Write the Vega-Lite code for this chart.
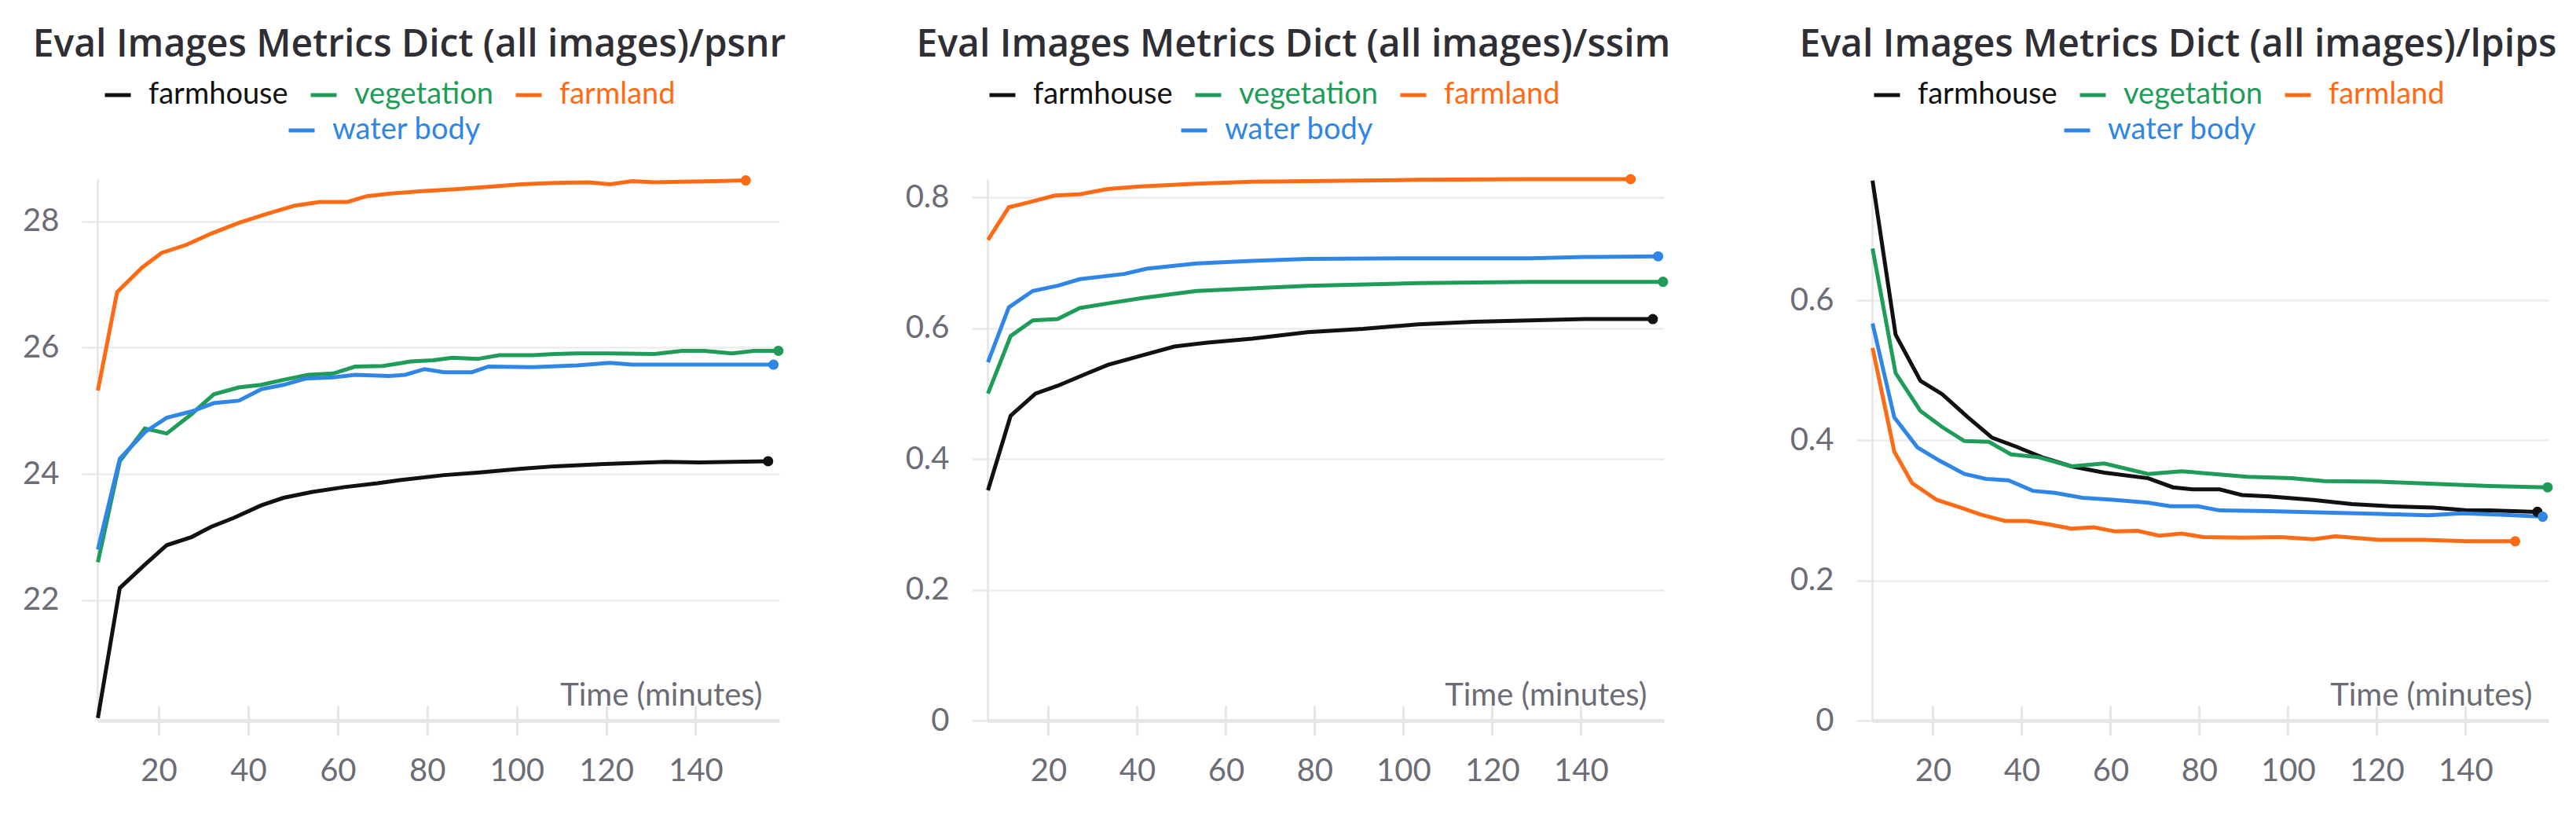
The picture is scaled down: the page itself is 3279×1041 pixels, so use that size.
{
  "$schema": "https://vega.github.io/schema/vega-lite/v6.json",
  "background": "white",
  "padding": {"left": 28, "top": 34, "right": 5, "bottom": 5},
  "config": {
    "font": "Lato",
    "view": {"stroke": null},
    "title": {"font": "Open Sans", "fontSize": 48, "fontWeight": 600, "color": "#2e2e34", "anchor": "middle", "frame": "group", "offset": 20, "baseline": "alphabetic"},
    "axisY": {"tickSize": 20, "labelPadding": 29, "domainColor": "#e4e4e8", "domainWidth": 2.5, "tickColor": "#e8e8ea", "tickWidth": 2.5, "gridColor": "#ececee", "gridWidth": 2.5, "labelFontSize": 40, "labelColor": "#6c6c76", "title": null, "grid": true, "labelFont": "Lato"},
    "legend": {"labelFont": "Lato", "labelFontSize": 38, "labelOffset": 20, "labelLimit": 0, "columnPadding": 26, "padding": 0, "symbolOpacity": 1}
  },
  "datasets": {
    "d": [
      {"m":"psnr","s":"farmland","t":6.4,"v":25.32},{"m":"psnr","s":"farmland","t":10.7,"v":26.88},{"m":"psnr","s":"farmland","t":16.3,"v":27.27},{"m":"psnr","s":"farmland","t":20.6,"v":27.5},{"m":"psnr","s":"farmland","t":26.2,"v":27.63},{"m":"psnr","s":"farmland","t":31.8,"v":27.81},{"m":"psnr","s":"farmland","t":38,"v":27.98},{"m":"psnr","s":"farmland","t":44.2,"v":28.12},{"m":"psnr","s":"farmland","t":50.4,"v":28.25},{"m":"psnr","s":"farmland","t":56,"v":28.31},{"m":"psnr","s":"farmland","t":62.2,"v":28.31},{"m":"psnr","s":"farmland","t":66.5,"v":28.4},{"m":"psnr","s":"farmland","t":71.5,"v":28.44},{"m":"psnr","s":"farmland","t":78.9,"v":28.48},{"m":"psnr","s":"farmland","t":86.3,"v":28.51},{"m":"psnr","s":"farmland","t":93.7,"v":28.55},{"m":"psnr","s":"farmland","t":101.1,"v":28.59},{"m":"psnr","s":"farmland","t":108.5,"v":28.61},{"m":"psnr","s":"farmland","t":115.9,"v":28.62},{"m":"psnr","s":"farmland","t":120.9,"v":28.59},{"m":"psnr","s":"farmland","t":125.8,"v":28.64},{"m":"psnr","s":"farmland","t":130.8,"v":28.62},{"m":"psnr","s":"farmland","t":137,"v":28.63},{"m":"psnr","s":"farmland","t":144.4,"v":28.64},{"m":"psnr","s":"farmland","t":151.2,"v":28.65},
      {"m":"psnr","s":"farmhouse","t":6.4,"v":20.13},{"m":"psnr","s":"farmhouse","t":11.3,"v":22.19},{"m":"psnr","s":"farmhouse","t":16.9,"v":22.56},{"m":"psnr","s":"farmhouse","t":21.8,"v":22.87},{"m":"psnr","s":"farmhouse","t":27.4,"v":23.0},{"m":"psnr","s":"farmhouse","t":31.7,"v":23.16},{"m":"psnr","s":"farmhouse","t":36.7,"v":23.3},{"m":"psnr","s":"farmhouse","t":42.9,"v":23.5},{"m":"psnr","s":"farmhouse","t":47.9,"v":23.62},{"m":"psnr","s":"farmhouse","t":54.1,"v":23.71},{"m":"psnr","s":"farmhouse","t":61.5,"v":23.79},{"m":"psnr","s":"farmhouse","t":68.9,"v":23.85},{"m":"psnr","s":"farmhouse","t":73.9,"v":23.9},{"m":"psnr","s":"farmhouse","t":83.8,"v":23.98},{"m":"psnr","s":"farmhouse","t":91.2,"v":24.02},{"m":"psnr","s":"farmhouse","t":101.1,"v":24.08},{"m":"psnr","s":"farmhouse","t":108.5,"v":24.12},{"m":"psnr","s":"farmhouse","t":120.9,"v":24.16},{"m":"psnr","s":"farmhouse","t":133.3,"v":24.19},{"m":"psnr","s":"farmhouse","t":140.7,"v":24.18},{"m":"psnr","s":"farmhouse","t":156.2,"v":24.2},
      {"m":"psnr","s":"vegetation","t":6.4,"v":22.6},{"m":"psnr","s":"vegetation","t":11.3,"v":24.2},{"m":"psnr","s":"vegetation","t":16.9,"v":24.72},{"m":"psnr","s":"vegetation","t":21.8,"v":24.64},{"m":"psnr","s":"vegetation","t":27.4,"v":24.95},{"m":"psnr","s":"vegetation","t":32.3,"v":25.26},{"m":"psnr","s":"vegetation","t":37.9,"v":25.37},{"m":"psnr","s":"vegetation","t":42.9,"v":25.41},{"m":"psnr","s":"vegetation","t":47.9,"v":25.49},{"m":"psnr","s":"vegetation","t":53.4,"v":25.57},{"m":"psnr","s":"vegetation","t":59,"v":25.59},{"m":"psnr","s":"vegetation","t":63.9,"v":25.7},{"m":"psnr","s":"vegetation","t":70.1,"v":25.71},{"m":"psnr","s":"vegetation","t":76.3,"v":25.78},{"m":"psnr","s":"vegetation","t":81.3,"v":25.8},{"m":"psnr","s":"vegetation","t":85.6,"v":25.84},{"m":"psnr","s":"vegetation","t":91.2,"v":25.82},{"m":"psnr","s":"vegetation","t":96.1,"v":25.88},{"m":"psnr","s":"vegetation","t":103.6,"v":25.88},{"m":"psnr","s":"vegetation","t":108.5,"v":25.9},{"m":"psnr","s":"vegetation","t":113.5,"v":25.91},{"m":"psnr","s":"vegetation","t":120.9,"v":25.91},{"m":"psnr","s":"vegetation","t":130.8,"v":25.9},{"m":"psnr","s":"vegetation","t":137,"v":25.95},{"m":"psnr","s":"vegetation","t":141.9,"v":25.95},{"m":"psnr","s":"vegetation","t":148.1,"v":25.91},{"m":"psnr","s":"vegetation","t":153.1,"v":25.95},{"m":"psnr","s":"vegetation","t":158.5,"v":25.95},
      {"m":"psnr","s":"water body","t":6.4,"v":22.8},{"m":"psnr","s":"water body","t":11.3,"v":24.24},{"m":"psnr","s":"water body","t":16.9,"v":24.66},{"m":"psnr","s":"water body","t":21.8,"v":24.89},{"m":"psnr","s":"water body","t":27.4,"v":24.99},{"m":"psnr","s":"water body","t":32.3,"v":25.12},{"m":"psnr","s":"water body","t":37.9,"v":25.16},{"m":"psnr","s":"water body","t":42.9,"v":25.34},{"m":"psnr","s":"water body","t":47.9,"v":25.41},{"m":"psnr","s":"water body","t":52.8,"v":25.51},{"m":"psnr","s":"water body","t":59,"v":25.53},{"m":"psnr","s":"water body","t":63.9,"v":25.57},{"m":"psnr","s":"water body","t":71.4,"v":25.55},{"m":"psnr","s":"water body","t":75.1,"v":25.57},{"m":"psnr","s":"water body","t":79.4,"v":25.66},{"m":"psnr","s":"water body","t":83.8,"v":25.61},{"m":"psnr","s":"water body","t":90,"v":25.61},{"m":"psnr","s":"water body","t":93.7,"v":25.7},{"m":"psnr","s":"water body","t":103.6,"v":25.69},{"m":"psnr","s":"water body","t":113.5,"v":25.72},{"m":"psnr","s":"water body","t":120.9,"v":25.76},{"m":"psnr","s":"water body","t":125.8,"v":25.73},{"m":"psnr","s":"water body","t":139.4,"v":25.73},{"m":"psnr","s":"water body","t":149.3,"v":25.73},{"m":"psnr","s":"water body","t":157.4,"v":25.73},
      {"m":"ssim","s":"farmland","t":6.4,"v":0.735},{"m":"ssim","s":"farmland","t":11.1,"v":0.785},{"m":"ssim","s":"farmland","t":15.9,"v":0.793},{"m":"ssim","s":"farmland","t":21.5,"v":0.803},{"m":"ssim","s":"farmland","t":27.1,"v":0.805},{"m":"ssim","s":"farmland","t":33.4,"v":0.813},{"m":"ssim","s":"farmland","t":40.9,"v":0.817},{"m":"ssim","s":"farmland","t":53.4,"v":0.821},{"m":"ssim","s":"farmland","t":65.9,"v":0.824},{"m":"ssim","s":"farmland","t":78.4,"v":0.825},{"m":"ssim","s":"farmland","t":103.4,"v":0.827},{"m":"ssim","s":"farmland","t":128.4,"v":0.828},{"m":"ssim","s":"farmland","t":151.2,"v":0.828},
      {"m":"ssim","s":"water body","t":6.4,"v":0.548},{"m":"ssim","s":"water body","t":11.1,"v":0.632},{"m":"ssim","s":"water body","t":16.5,"v":0.657},{"m":"ssim","s":"water body","t":22.1,"v":0.665},{"m":"ssim","s":"water body","t":27.1,"v":0.675},{"m":"ssim","s":"water body","t":37.1,"v":0.683},{"m":"ssim","s":"water body","t":42.1,"v":0.691},{"m":"ssim","s":"water body","t":53.4,"v":0.699},{"m":"ssim","s":"water body","t":65.9,"v":0.703},{"m":"ssim","s":"water body","t":78.4,"v":0.706},{"m":"ssim","s":"water body","t":103.4,"v":0.707},{"m":"ssim","s":"water body","t":128.4,"v":0.707},{"m":"ssim","s":"water body","t":140.9,"v":0.709},{"m":"ssim","s":"water body","t":157.4,"v":0.71},
      {"m":"ssim","s":"vegetation","t":6.4,"v":0.5},{"m":"ssim","s":"vegetation","t":11.5,"v":0.588},{"m":"ssim","s":"vegetation","t":16.5,"v":0.612},{"m":"ssim","s":"vegetation","t":22.1,"v":0.614},{"m":"ssim","s":"vegetation","t":27.1,"v":0.631},{"m":"ssim","s":"vegetation","t":33.4,"v":0.638},{"m":"ssim","s":"vegetation","t":40.9,"v":0.646},{"m":"ssim","s":"vegetation","t":53.4,"v":0.657},{"m":"ssim","s":"vegetation","t":65.9,"v":0.661},{"m":"ssim","s":"vegetation","t":78.4,"v":0.665},{"m":"ssim","s":"vegetation","t":103.4,"v":0.669},{"m":"ssim","s":"vegetation","t":128.4,"v":0.671},{"m":"ssim","s":"vegetation","t":158.5,"v":0.671},
      {"m":"ssim","s":"farmhouse","t":6.4,"v":0.352},{"m":"ssim","s":"farmhouse","t":11.5,"v":0.466},{"m":"ssim","s":"farmhouse","t":17.1,"v":0.5},{"m":"ssim","s":"farmhouse","t":22.1,"v":0.512},{"m":"ssim","s":"farmhouse","t":28.4,"v":0.53},{"m":"ssim","s":"farmhouse","t":33.4,"v":0.544},{"m":"ssim","s":"farmhouse","t":40.9,"v":0.558},{"m":"ssim","s":"farmhouse","t":48.4,"v":0.572},{"m":"ssim","s":"farmhouse","t":55.9,"v":0.578},{"m":"ssim","s":"farmhouse","t":65.9,"v":0.584},{"m":"ssim","s":"farmhouse","t":78.4,"v":0.594},{"m":"ssim","s":"farmhouse","t":90.9,"v":0.599},{"m":"ssim","s":"farmhouse","t":103.4,"v":0.606},{"m":"ssim","s":"farmhouse","t":115.9,"v":0.61},{"m":"ssim","s":"farmhouse","t":128.4,"v":0.612},{"m":"ssim","s":"farmhouse","t":140.9,"v":0.614},{"m":"ssim","s":"farmhouse","t":156.2,"v":0.614},
      {"m":"lpips","s":"farmhouse","t":6.4,"v":0.771},{"m":"lpips","s":"farmhouse","t":11.6,"v":0.551},{"m":"lpips","s":"farmhouse","t":17.2,"v":0.485},{"m":"lpips","s":"farmhouse","t":22.1,"v":0.466},{"m":"lpips","s":"farmhouse","t":27.7,"v":0.434},{"m":"lpips","s":"farmhouse","t":33.3,"v":0.404},{"m":"lpips","s":"farmhouse","t":38.8,"v":0.391},{"m":"lpips","s":"farmhouse","t":45,"v":0.375},{"m":"lpips","s":"farmhouse","t":51.2,"v":0.363},{"m":"lpips","s":"farmhouse","t":58.6,"v":0.354},{"m":"lpips","s":"farmhouse","t":68.5,"v":0.346},{"m":"lpips","s":"farmhouse","t":74.1,"v":0.333},{"m":"lpips","s":"farmhouse","t":78.5,"v":0.33},{"m":"lpips","s":"farmhouse","t":84.6,"v":0.33},{"m":"lpips","s":"farmhouse","t":89.6,"v":0.322},{"m":"lpips","s":"farmhouse","t":95.8,"v":0.32},{"m":"lpips","s":"farmhouse","t":105.7,"v":0.315},{"m":"lpips","s":"farmhouse","t":114.4,"v":0.309},{"m":"lpips","s":"farmhouse","t":123,"v":0.306},{"m":"lpips","s":"farmhouse","t":132.9,"v":0.304},{"m":"lpips","s":"farmhouse","t":140.4,"v":0.3},{"m":"lpips","s":"farmhouse","t":145.3,"v":0.3},{"m":"lpips","s":"farmhouse","t":156.2,"v":0.298},
      {"m":"lpips","s":"vegetation","t":6.4,"v":0.674},{"m":"lpips","s":"vegetation","t":11.6,"v":0.496},{"m":"lpips","s":"vegetation","t":17.2,"v":0.442},{"m":"lpips","s":"vegetation","t":22.1,"v":0.419},{"m":"lpips","s":"vegetation","t":27.1,"v":0.399},{"m":"lpips","s":"vegetation","t":32.6,"v":0.398},{"m":"lpips","s":"vegetation","t":37.6,"v":0.38},{"m":"lpips","s":"vegetation","t":43.8,"v":0.376},{"m":"lpips","s":"vegetation","t":51.2,"v":0.363},{"m":"lpips","s":"vegetation","t":58.6,"v":0.367},{"m":"lpips","s":"vegetation","t":68.5,"v":0.352},{"m":"lpips","s":"vegetation","t":76,"v":0.356},{"m":"lpips","s":"vegetation","t":83.4,"v":0.352},{"m":"lpips","s":"vegetation","t":90.8,"v":0.348},{"m":"lpips","s":"vegetation","t":100.7,"v":0.346},{"m":"lpips","s":"vegetation","t":108.2,"v":0.342},{"m":"lpips","s":"vegetation","t":120.6,"v":0.341},{"m":"lpips","s":"vegetation","t":132.9,"v":0.338},{"m":"lpips","s":"vegetation","t":145.3,"v":0.335},{"m":"lpips","s":"vegetation","t":158.5,"v":0.333},
      {"m":"lpips","s":"water body","t":6.4,"v":0.567},{"m":"lpips","s":"water body","t":11.3,"v":0.433},{"m":"lpips","s":"water body","t":16.5,"v":0.39},{"m":"lpips","s":"water body","t":21.5,"v":0.371},{"m":"lpips","s":"water body","t":27.1,"v":0.352},{"m":"lpips","s":"water body","t":32,"v":0.345},{"m":"lpips","s":"water body","t":37,"v":0.343},{"m":"lpips","s":"water body","t":42.5,"v":0.328},{"m":"lpips","s":"water body","t":47.5,"v":0.325},{"m":"lpips","s":"water body","t":53.7,"v":0.318},{"m":"lpips","s":"water body","t":61.1,"v":0.315},{"m":"lpips","s":"water body","t":68.5,"v":0.311},{"m":"lpips","s":"water body","t":73.5,"v":0.306},{"m":"lpips","s":"water body","t":79.7,"v":0.306},{"m":"lpips","s":"water body","t":84.6,"v":0.3},{"m":"lpips","s":"water body","t":95.8,"v":0.299},{"m":"lpips","s":"water body","t":108.2,"v":0.297},{"m":"lpips","s":"water body","t":120.6,"v":0.295},{"m":"lpips","s":"water body","t":131.7,"v":0.293},{"m":"lpips","s":"water body","t":139.2,"v":0.296},{"m":"lpips","s":"water body","t":147.9,"v":0.294},{"m":"lpips","s":"water body","t":157.4,"v":0.291},
      {"m":"lpips","s":"farmland","t":6.4,"v":0.532},{"m":"lpips","s":"farmland","t":11.3,"v":0.384},{"m":"lpips","s":"farmland","t":15.3,"v":0.339},{"m":"lpips","s":"farmland","t":20.9,"v":0.315},{"m":"lpips","s":"farmland","t":25.8,"v":0.305},{"m":"lpips","s":"farmland","t":30.8,"v":0.294},{"m":"lpips","s":"farmland","t":36.3,"v":0.285},{"m":"lpips","s":"farmland","t":41.3,"v":0.285},{"m":"lpips","s":"farmland","t":46.3,"v":0.28},{"m":"lpips","s":"farmland","t":51.2,"v":0.274},{"m":"lpips","s":"farmland","t":56.2,"v":0.276},{"m":"lpips","s":"farmland","t":61.1,"v":0.27},{"m":"lpips","s":"farmland","t":66.1,"v":0.271},{"m":"lpips","s":"farmland","t":71,"v":0.264},{"m":"lpips","s":"farmland","t":76,"v":0.267},{"m":"lpips","s":"farmland","t":80.9,"v":0.262},{"m":"lpips","s":"farmland","t":89.6,"v":0.261},{"m":"lpips","s":"farmland","t":98.3,"v":0.262},{"m":"lpips","s":"farmland","t":105.7,"v":0.259},{"m":"lpips","s":"farmland","t":110.7,"v":0.263},{"m":"lpips","s":"farmland","t":120.6,"v":0.258},{"m":"lpips","s":"farmland","t":130.5,"v":0.258},{"m":"lpips","s":"farmland","t":140.4,"v":0.256},{"m":"lpips","s":"farmland","t":151.2,"v":0.256}
    ]
  },
  "data": {"name": "d"},
  "spacing": 265,
  "bounds": "flush",
  "resolve": {"scale": {"color": "independent", "fill": "independent", "y": "independent", "x": "independent"}, "legend": {"color": "independent", "fill": "independent"}},
  "hconcat": [
    {
      "width": 868, "height": 689,
      "title": {"text": "Eval Images Metrics Dict (all images)/psnr", "dx": -37},
      "transform": [{"filter": "datum.m === 'psnr'"}],
      "resolve": {"axis": {"x": "independent"}},
      "layer": [
        {
          "mark": {"type": "line", "strokeWidth": 5},
          "encoding": {
            "x": {"field": "t", "type": "quantitative", "scale": {"domain": [6.3, 158.7], "nice": false, "zero": false},
                  "axis": {"values": [20,40,60,80,100,120,140], "offset": -19, "domain": false, "grid": false, "tickSize": 38, "tickColor": "#e6e6e8", "tickWidth": 3, "labelPadding": 45, "labelBaseline": "middle", "labelFontSize": 40, "labelColor": "#6c6c76", "labelFlush": false, "title": "Time (minutes)", "titleX": 846, "titleY": -1, "titleAlign": "right", "titleAnchor": "end", "titleBaseline": "alphabetic", "titleFontSize": 40, "titleFontWeight": "normal", "titleColor": "#6c6c76"}},
            "y": {"field": "v", "type": "quantitative", "scale": {"domain": [20.09, 28.67], "nice": false, "zero": false}, "axis": {"values": [22,24,26,28], "format": "d"}},
            "color": {"field": "s", "type": "nominal", "scale": {"domain": ["water body","farmhouse","vegetation","farmland"], "range": ["#2f86e6","#111111","#1f9c58","#ff6b14"]},
                      "legend": {"values": ["water body"], "orient": "none", "legendX": 241, "legendY": -81, "title": null, "symbolType": "stroke", "symbolSize": 1089, "symbolStrokeWidth": 5, "labelColor": "#2f86e6"}}
          }
        },
        {
          "transform": [{"joinaggregate": [{"op": "max", "field": "t", "as": "tmax"}], "groupby": ["s"]}, {"filter": "datum.t === datum.tmax"}],
          "mark": {"type": "point", "filled": true, "size": 170, "opacity": 1},
          "encoding": {
            "x": {"field": "t", "type": "quantitative", "axis": {"orient": "bottom", "domain": true, "domainColor": "#e6e6e8", "domainWidth": 5, "ticks": false, "labels": false, "grid": false, "title": null}},
            "y": {"field": "v", "type": "quantitative"},
            "fill": {"field": "s", "type": "nominal", "scale": {"domain": ["farmhouse","vegetation","farmland","water body"], "range": ["#111111","#1f9c58","#ff6b14","#2f86e6"]},
                     "legend": {"values": ["farmhouse","vegetation","farmland"], "orient": "none", "legendX": 7, "legendY": -126, "direction": "horizontal", "columns": 3, "title": null, "symbolType": "M-1,-0.15L1,-0.15L1,0.15L-1,0.15Z", "symbolSize": 1089, "symbolStrokeWidth": 0,
                                "encode": {"labels": {"update": {"fill": {"signal": "datum.value === 'farmhouse' ? '#111111' : datum.value === 'vegetation' ? '#1f9c58' : '#ff6b14'"}}}}}}
          }
        }
      ]
    },
    {
      "width": 861, "height": 689,
      "title": {"text": "Eval Images Metrics Dict (all images)/ssim", "dx": -41},
      "transform": [{"filter": "datum.m === 'ssim'"}],
      "resolve": {"axis": {"x": "independent"}},
      "layer": [
        {
          "mark": {"type": "line", "strokeWidth": 5},
          "encoding": {
            "x": {"field": "t", "type": "quantitative", "scale": {"domain": [6.3, 158.7], "nice": false, "zero": false},
                  "axis": {"values": [20,40,60,80,100,120,140], "offset": -19, "domain": false, "grid": false, "tickSize": 38, "tickColor": "#e6e6e8", "tickWidth": 3, "labelPadding": 45, "labelBaseline": "middle", "labelFontSize": 40, "labelColor": "#6c6c76", "labelFlush": false, "title": "Time (minutes)", "titleX": 839, "titleY": -1, "titleAlign": "right", "titleAnchor": "end", "titleBaseline": "alphabetic", "titleFontSize": 40, "titleFontWeight": "normal", "titleColor": "#6c6c76"}},
            "y": {"field": "v", "type": "quantitative", "scale": {"domain": [0, 0.828], "nice": false}, "axis": {"values": [0,0.2,0.4,0.6,0.8], "format": ".1~f"}},
            "color": {"field": "s", "type": "nominal", "scale": {"domain": ["water body","farmhouse","vegetation","farmland"], "range": ["#2f86e6","#111111","#1f9c58","#ff6b14"]},
                      "legend": {"values": ["water body"], "orient": "none", "legendX": 244, "legendY": -81, "title": null, "symbolType": "stroke", "symbolSize": 1089, "symbolStrokeWidth": 5, "labelColor": "#2f86e6"}}
          }
        },
        {
          "transform": [{"joinaggregate": [{"op": "max", "field": "t", "as": "tmax"}], "groupby": ["s"]}, {"filter": "datum.t === datum.tmax"}],
          "mark": {"type": "point", "filled": true, "size": 170, "opacity": 1},
          "encoding": {
            "x": {"field": "t", "type": "quantitative", "axis": {"orient": "bottom", "domain": true, "domainColor": "#e6e6e8", "domainWidth": 5, "ticks": false, "labels": false, "grid": false, "title": null}},
            "y": {"field": "v", "type": "quantitative"},
            "fill": {"field": "s", "type": "nominal", "scale": {"domain": ["farmhouse","vegetation","farmland","water body"], "range": ["#111111","#1f9c58","#ff6b14","#2f86e6"]},
                     "legend": {"values": ["farmhouse","vegetation","farmland"], "orient": "none", "legendX": 0, "legendY": -126, "direction": "horizontal", "columns": 3, "title": null, "symbolType": "M-1,-0.15L1,-0.15L1,0.15L-1,0.15Z", "symbolSize": 1089, "symbolStrokeWidth": 0,
                                "encode": {"labels": {"update": {"fill": {"signal": "datum.value === 'farmhouse' ? '#111111' : datum.value === 'vegetation' ? '#1f9c58' : '#ff6b14'"}}}}}}
          }
        }
      ]
    },
    {
      "width": 861, "height": 689,
      "title": {"text": "Eval Images Metrics Dict (all images)/lpips", "dx": -41},
      "transform": [{"filter": "datum.m === 'lpips'"}],
      "resolve": {"axis": {"x": "independent"}},
      "layer": [
        {
          "mark": {"type": "line", "strokeWidth": 5},
          "encoding": {
            "x": {"field": "t", "type": "quantitative", "scale": {"domain": [6.3, 158.7], "nice": false, "zero": false},
                  "axis": {"values": [20,40,60,80,100,120,140], "offset": -19, "domain": false, "grid": false, "tickSize": 38, "tickColor": "#e6e6e8", "tickWidth": 3, "labelPadding": 45, "labelBaseline": "middle", "labelFontSize": 40, "labelColor": "#6c6c76", "labelFlush": false, "title": "Time (minutes)", "titleX": 840, "titleY": -1, "titleAlign": "right", "titleAnchor": "end", "titleBaseline": "alphabetic", "titleFontSize": 40, "titleFontWeight": "normal", "titleColor": "#6c6c76"}},
            "y": {"field": "v", "type": "quantitative", "scale": {"domain": [0, 0.773], "nice": false}, "axis": {"values": [0,0.2,0.4,0.6], "format": ".1~f"}},
            "color": {"field": "s", "type": "nominal", "scale": {"domain": ["water body","farmhouse","vegetation","farmland"], "range": ["#2f86e6","#111111","#1f9c58","#ff6b14"]},
                      "legend": {"values": ["water body"], "orient": "none", "legendX": 242, "legendY": -81, "title": null, "symbolType": "stroke", "symbolSize": 1089, "symbolStrokeWidth": 5, "labelColor": "#2f86e6"}}
          }
        },
        {
          "transform": [{"joinaggregate": [{"op": "max", "field": "t", "as": "tmax"}], "groupby": ["s"]}, {"filter": "datum.t === datum.tmax"}],
          "mark": {"type": "point", "filled": true, "size": 170, "opacity": 1},
          "encoding": {
            "x": {"field": "t", "type": "quantitative", "axis": {"orient": "bottom", "domain": true, "domainColor": "#e6e6e8", "domainWidth": 5, "ticks": false, "labels": false, "grid": false, "title": null}},
            "y": {"field": "v", "type": "quantitative"},
            "fill": {"field": "s", "type": "nominal", "scale": {"domain": ["farmhouse","vegetation","farmland","water body"], "range": ["#111111","#1f9c58","#ff6b14","#2f86e6"]},
                     "legend": {"values": ["farmhouse","vegetation","farmland"], "orient": "none", "legendX": 0, "legendY": -126, "direction": "horizontal", "columns": 3, "title": null, "symbolType": "M-1,-0.15L1,-0.15L1,0.15L-1,0.15Z", "symbolSize": 1089, "symbolStrokeWidth": 0,
                                "encode": {"labels": {"update": {"fill": {"signal": "datum.value === 'farmhouse' ? '#111111' : datum.value === 'vegetation' ? '#1f9c58' : '#ff6b14'"}}}}}}
          }
        }
      ]
    }
  ]
}
